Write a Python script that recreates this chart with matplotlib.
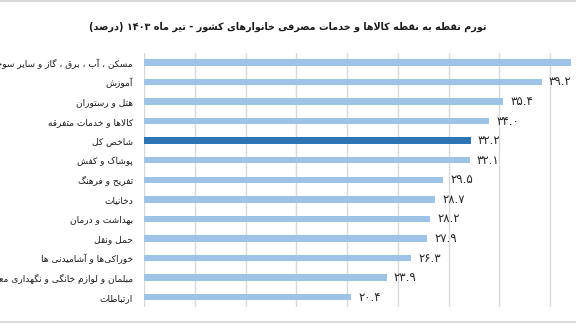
import re
import matplotlib
matplotlib.use("Agg")
import matplotlib.pyplot as plt
from matplotlib.lines import Line2D

# داده‌ها (از بالا به پایین)
title = "تورم نقطه به نقطه کالاها و خدمات مصرفی خانوارهای کشور - تیر ماه ۱۴۰۳ (درصد)"
categories = [
    "مسکن ، آب ، برق ، گاز و سایر سوختها",
    "آموزش",
    "هتل و رستوران",
    "کالاها و خدمات متفرقه",
    "شاخص کل",
    "پوشاک و کفش",
    "تفریح و فرهنگ",
    "دخانیات",
    "بهداشت و درمان",
    "حمل ونقل",
    "خوراکی\u200cها و آشامیدنی ها",
    "مبلمان و لوازم خانگی و نگهداری معمول از آن",
    "ارتباطات",
]
values = [42.1, 39.2, 35.4, 34.0, 32.2, 32.1, 29.5, 28.7, 28.2, 27.9, 26.3, 23.9, 20.4]
highlight = "شاخص کل"

# matplotlib has no arabic shaping / bidi, so do it by hand
DUAL = {
    "ب": "\uFE8F\uFE90\uFE91\uFE92", "پ": "\uFB56\uFB57\uFB58\uFB59",
    "ت": "\uFE95\uFE96\uFE97\uFE98", "ث": "\uFE99\uFE9A\uFE9B\uFE9C",
    "ج": "\uFE9D\uFE9E\uFE9F\uFEA0", "چ": "\uFB7A\uFB7B\uFB7C\uFB7D",
    "ح": "\uFEA1\uFEA2\uFEA3\uFEA4", "خ": "\uFEA5\uFEA6\uFEA7\uFEA8",
    "س": "\uFEB1\uFEB2\uFEB3\uFEB4", "ش": "\uFEB5\uFEB6\uFEB7\uFEB8",
    "ص": "\uFEB9\uFEBA\uFEBB\uFEBC", "ض": "\uFEBD\uFEBE\uFEBF\uFEC0",
    "ط": "\uFEC1\uFEC2\uFEC3\uFEC4", "ظ": "\uFEC5\uFEC6\uFEC7\uFEC8",
    "ع": "\uFEC9\uFECA\uFECB\uFECC", "غ": "\uFECD\uFECE\uFECF\uFED0",
    "ف": "\uFED1\uFED2\uFED3\uFED4", "ق": "\uFED5\uFED6\uFED7\uFED8",
    "ک": "\uFB8E\uFB8F\uFB90\uFB91", "گ": "\uFB92\uFB93\uFB94\uFB95",
    "ل": "\uFEDD\uFEDE\uFEDF\uFEE0", "م": "\uFEE1\uFEE2\uFEE3\uFEE4",
    "ن": "\uFEE5\uFEE6\uFEE7\uFEE8", "ه": "\uFEE9\uFEEA\uFEEB\uFEEC",
    "ی": "\uFBFC\uFBFD\uFBFE\uFBFF", "ئ": "\uFE89\uFE8A\uFE8B\uFE8C",
}
RIGHT = {
    "ا": "\uFE8D\uFE8E", "آ": "\uFE81\uFE82", "د": "\uFEA9\uFEAA",
    "ذ": "\uFEAB\uFEAC", "ر": "\uFEAD\uFEAE", "ز": "\uFEAF\uFEB0",
    "ژ": "\uFB8A\uFB8B", "و": "\uFEED\uFEEE",
}
LAMALEF = {"ا": "\uFEFB\uFEFC", "آ": "\uFEF5\uFEF6"}


def shape(text):
    out = []
    i = 0
    n = len(text)
    while i < n:
        c = text[i]
        prev = text[i - 1] if i > 0 else ""
        nxt = text[i + 1] if i + 1 < n else ""
        joins_prev = prev in DUAL
        if c == "ل" and nxt in LAMALEF:
            out.append(LAMALEF[nxt][1 if joins_prev else 0])
            i += 2
            continue
        if c in DUAL:
            joins_next = nxt in DUAL or nxt in RIGHT
            idx = {(False, False): 0, (True, False): 1,
                   (False, True): 2, (True, True): 3}[(joins_prev, joins_next)]
            out.append(DUAL[c][idx])
        elif c in RIGHT:
            out.append(RIGHT[c][1 if joins_prev else 0])
        elif c == "\u200c":
            pass
        else:
            out.append(c)
        i += 1
    return "".join(out)


def rtl(text):
    s = shape(text)
    tokens = re.findall(r"[0-9\u06F0-\u06F9]+(?:\.[0-9\u06F0-\u06F9]+)*|.", s)
    mirror = {"(": ")", ")": "("}
    return "".join(mirror.get(t, t) for t in tokens[::-1])


def fa_num(v):
    return "{:.1f}".format(v).translate(str.maketrans("0123456789", "۰۱۲۳۴۵۶۷۸۹"))


plt.rcParams["font.family"] = ["DejaVu Sans"]

fig = plt.figure(figsize=(5.76, 3.24), dpi=100)
ax = fig.add_axes([0.25, 0.0525, 0.75, 0.785])

xmax = 42.56
y = list(range(len(categories)))
colors = ["#2E75B6" if c == highlight else "#9DC3E6" for c in categories]
ax.barh(y, values, height=0.33, color=colors, zorder=2)

# برچسب مقادیر (برچسب بیرون از کادر دیده نمی‌شود)
for yi, v in zip(y, values):
    if v + 0.7 < xmax - 2.5:
        ax.text(v + 0.7, yi, fa_num(v), va="center", ha="left", fontsize=8.5,
                color="#262626")

ax.set_xlim(0, xmax)
ax.set_ylim(len(categories) - 0.5, -0.5)
ax.set_xticks(range(0, 45, 5))
ax.xaxis.grid(True, color="#D9D9D9", lw=1, zorder=0)
ax.tick_params(axis="x", length=0, labelbottom=False)
ax.tick_params(axis="y", length=0, pad=8)
ax.set_yticks(y)
ax.set_yticklabels([rtl(c) for c in categories], fontsize=6.5, color="#1a1a1a")
for s in ax.spines.values():
    s.set_visible(False)

fig.text(0.5, 0.917, rtl(title), ha="center", va="center", fontsize=6.9,
         fontweight="bold", color="#1a1a1a")

# قاب نمودار
fig.add_artist(Line2D([0, 1], [0.996, 0.996], color="#D9D9D9", lw=1.5))
fig.add_artist(Line2D([0, 1], [0.007, 0.007], color="#D9D9D9", lw=1.5))

fig.savefig("out.png", dpi=100)
plt.close("all")
